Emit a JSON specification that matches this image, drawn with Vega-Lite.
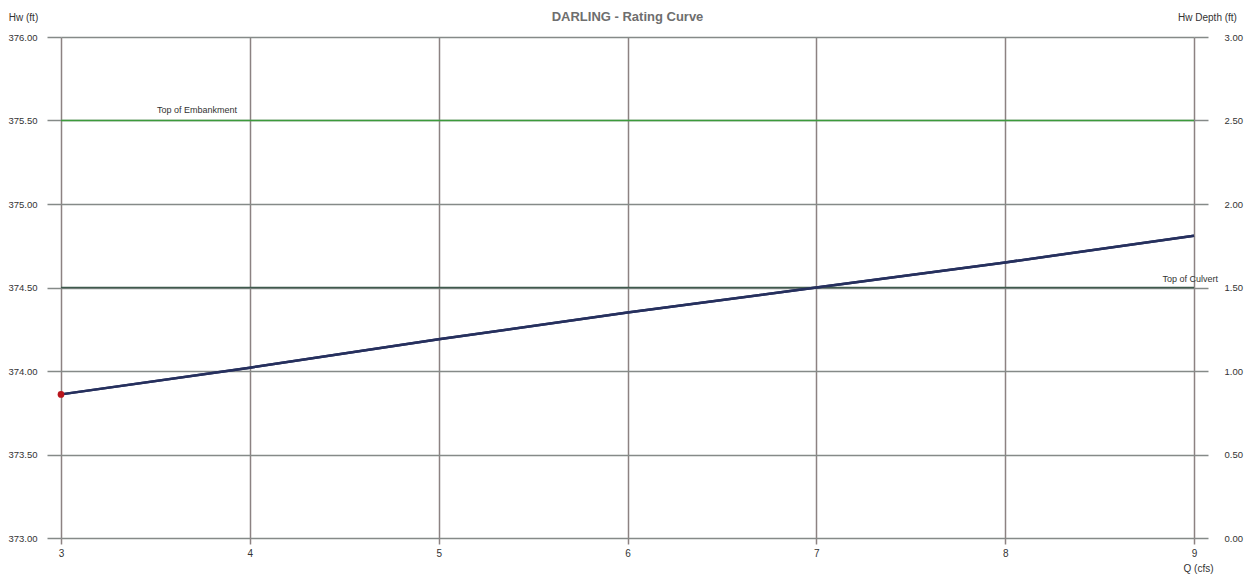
{
  "$schema": "https://vega.github.io/schema/vega-lite/v6.json",
  "autosize": "none",
  "width": 1133,
  "height": 501,
  "padding": {"left": 61, "top": 37, "right": 57, "bottom": 37},
  "background": "white",
  "title": {"text": "DARLING - Rating Curve", "anchor": "middle", "fontSize": 13, "font": "Liberation Sans", "fontWeight": "bold", "color": "#6e6e6e", "offset": -12},
  "config": {
    "view": {"stroke": null},
    "axis": {"labelFont": "Liberation Sans Narrow, Liberation Sans", "titleFont": "Liberation Sans Narrow, Liberation Sans", "labelColor": "#333", "titleColor": "#333", "titleFontWeight": "normal", "labelFontSize": 10, "titleFontSize": 10}
  },
  "datasets": {
    "curve": [
      {"q": 3, "hw": 373.86},
      {"q": 4, "hw": 374.02},
      {"q": 5, "hw": 374.19},
      {"q": 6, "hw": 374.35},
      {"q": 7, "hw": 374.5},
      {"q": 8, "hw": 374.65},
      {"q": 9, "hw": 374.81}
    ],
    "refs": [
      {"name": "Top of Embankment", "hw": 375.5, "lx": 3.72, "ly": 375.56},
      {"name": "Top of Culvert", "hw": 374.5, "lx": 8.98, "ly": 374.55}
    ],
    "pt": [{"q": 3, "hw": 373.86}]
  },
  "resolve": {"axis": {"y": "independent"}},
  "layer": [
    {
      "data": {"name": "curve"},
      "mark": {"type": "line", "color": "#26305e", "strokeWidth": 2.5},
      "encoding": {
        "x": {"field": "q", "type": "quantitative", "scale": {"domain": [3, 9], "nice": false}, "title": "Q (cfs)",
          "axis": {"values": [3, 4, 5, 6, 7, 8, 9], "format": "d", "labelFlush": false, "grid": true, "gridColor": "#8c8282", "gridWidth": 1.5, "gridOpacity": 1, "domain": false, "tickColor": "#8c8282", "tickSize": 6, "tickWidth": 1.5, "labelPadding": 4, "titleAnchor": "end", "titleAlign": "center", "titleX": 1137, "titleY": 30, "titleBaseline": "middle"}},
        "y": {"field": "hw", "type": "quantitative", "scale": {"domain": [373, 376], "nice": false, "zero": false}, "title": "Hw (ft)",
          "axis": {"orient": "left", "values": [373, 373.5, 374, 374.5, 375, 375.5, 376], "format": ".2f", "grid": true, "gridColor": "#858a88", "gridWidth": 1.5, "gridOpacity": 1, "domain": false, "tickColor": "#858a88", "tickSize": 14, "tickWidth": 1.5, "labelPadding": 10, "labelFontSize": 9.5, "titleAngle": 0, "titleAlign": "center", "titleX": -38, "titleY": -20, "titleBaseline": "middle"}}
      }
    },
    {
      "data": {"name": "refs"},
      "mark": {"type": "rule", "strokeWidth": 1.5},
      "encoding": {
        "y": {"field": "hw", "type": "quantitative", "title": "Hw Depth (ft)",
          "axis": {"orient": "right", "values": [373, 373.5, 374, 374.5, 375, 375.5, 376], "labelExpr": "format(datum.value - 373, '.2f')", "grid": false, "domain": false, "tickColor": "#858a88", "tickSize": 14, "tickWidth": 1.5, "labelPadding": 16, "labelFontSize": 9.5, "titleAngle": 0, "titleAlign": "center", "titleX": 13, "titleY": -20, "titleBaseline": "middle"}},
        "color": {"field": "name", "type": "nominal", "scale": {"domain": ["Top of Embankment", "Top of Culvert"], "range": ["#3c9a3c", "#3e5a4c"]}, "legend": null},
        "strokeWidth": {"field": "name", "type": "nominal", "scale": {"domain": ["Top of Embankment", "Top of Culvert"], "range": [3, 1.5]}, "legend": null}
      }
    },
    {
      "data": {"name": "curve"},
      "mark": {"type": "line", "color": "#26305e", "strokeWidth": 2.5},
      "encoding": {
        "x": {"field": "q", "type": "quantitative"},
        "y": {"field": "hw", "type": "quantitative", "axis": null}
      }
    },
    {
      "data": {"name": "pt"},
      "mark": {"type": "circle", "color": "#b8141c", "size": 45, "opacity": 1},
      "encoding": {
        "x": {"field": "q", "type": "quantitative"},
        "y": {"field": "hw", "type": "quantitative", "axis": null}
      }
    },
    {
      "data": {"name": "refs"},
      "mark": {"type": "text", "font": "Liberation Sans Narrow, Liberation Sans", "fontSize": 9, "color": "#333", "baseline": "middle"},
      "encoding": {
        "x": {"field": "lx", "type": "quantitative"},
        "y": {"field": "ly", "type": "quantitative", "axis": null},
        "text": {"field": "name"},
        "align": {"condition": {"test": "datum.name === 'Top of Culvert'", "value": "right"}, "value": "center"}
      }
    }
  ]
}
